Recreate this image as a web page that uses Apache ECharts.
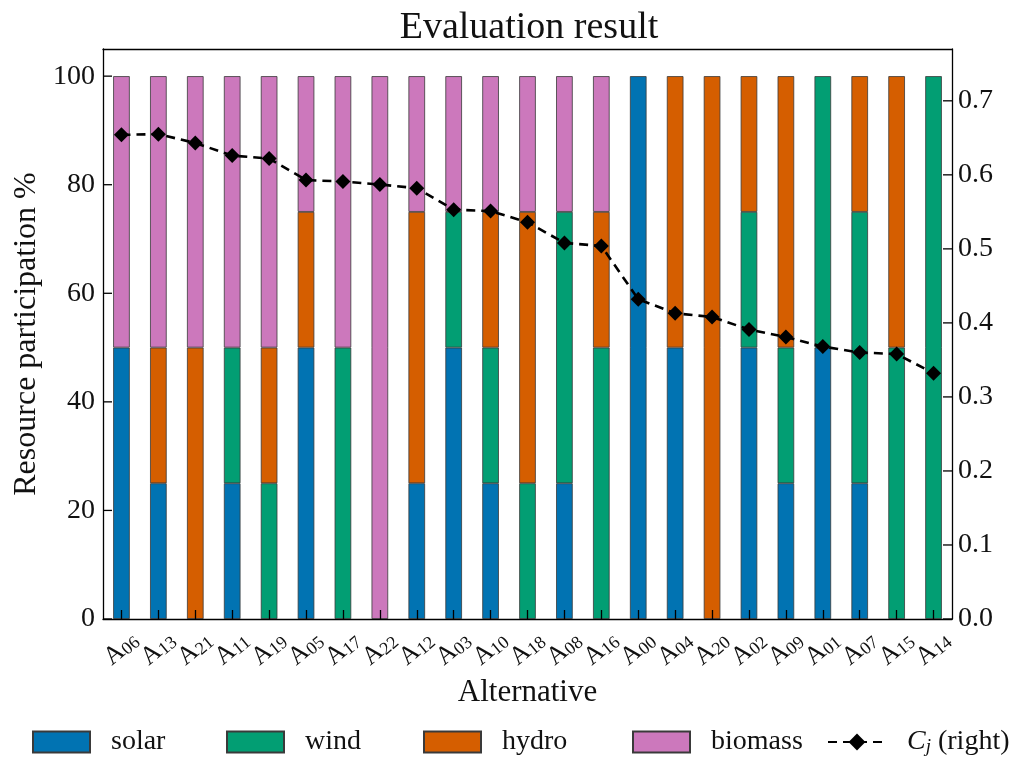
<!DOCTYPE html>
<html>
<head>
<meta charset="utf-8">
<script src="https://cdn.jsdelivr.net/npm/echarts@6/dist/echarts.min.js"></script>
<style>html,body{margin:0;padding:0;background:#fff;}#c{width:1025px;height:758px;}</style>
</head>
<body>
<div id="c"></div>
<script>
const categories = ['A06','A13','A21','A11','A19','A05','A17','A22','A12','A03','A10','A18','A08','A16','A00','A04','A20','A02','A09','A01','A07','A15','A14'];
const solar   = [50,25, 0,25, 0,50, 0,  0,25,50,25, 0,25, 0,100,50,  0,50,25,50,25, 0,  0];
const wind    = [ 0, 0, 0,25,25, 0,50,  0, 0,25,25,25,50,50,  0, 0,  0,25,25,50,50,50,100];
const hydro   = [ 0,25,50, 0,25,25, 0,  0,50, 0,25,50, 0,25,  0,50,100,25,50, 0,25,50,  0];
const biomass = [50,50,50,50,50,25,50,100,25,25,25,25,25,25,  0, 0,  0, 0, 0, 0, 0, 0,  0];
const cj = [0.654,0.655,0.643,0.626,0.622,0.593,0.591,0.587,0.582,0.553,0.551,0.536,0.508,0.504,0.432,0.413,0.408,0.391,0.381,0.368,0.360,0.358,0.332];
const leftTicks = [0,20,40,60,80,100];
const rightTicks = [0.0,0.1,0.2,0.3,0.4,0.5,0.6,0.7];

const FONT = 'Liberation Serif';
const colors = {solar:'#0173B2', wind:'#029E73', hydro:'#D55E00', biomass:'#CC78BC'};
const TICK_LEN = 9;

function barSeries(name, arr){
  return {
    name: name, type: 'bar', stack: 'total', barWidth: '45%',
    itemStyle: {color: colors[name], borderColor: '#3a3a3a', borderWidth: 0.8},
    data: arr.map(v => v === 0 ? null : v),
    z: 2
  };
}

// inward-pointing y-axis ticks, placed through the axis scale via api.coord
function tickSeries(axisIdx, ticks, side){
  return {
    name: '_ticks' + axisIdx, type: 'custom', yAxisIndex: axisIdx, silent: true, z: 20,
    data: ticks.map(v => [0, v]),
    encode: {x: 0, y: 1},
    renderItem: function(params, api){
      const cs = params.coordSys;
      const y = api.coord([0, api.value(1)])[1];
      const x0 = side === 'left' ? cs.x : cs.x + cs.width;
      const x1 = side === 'left' ? cs.x + TICK_LEN : cs.x + cs.width - TICK_LEN;
      return {type: 'line', shape: {x1: x0, y1: y, x2: x1, y2: y},
              style: {stroke: '#000', lineWidth: 1.3}};
    }
  };
}

const chart = echarts.init(document.getElementById('c'));
const legendBase = {
  orient: 'horizontal', top: 723, itemWidth: 57, itemHeight: 21, selectedMode: false,
  textStyle: {fontFamily: FONT, fontSize: 28, color: '#111', padding: [0,0,0,16],
    rich: {i: {fontFamily: FONT, fontStyle: 'italic', fontSize: 28, color:'#111'},
           s: {fontFamily: FONT, fontStyle: 'italic', fontSize: 19, verticalAlign: 'bottom', padding:[10,0,0,0], color:'#111'},
           n: {fontFamily: FONT, fontSize: 28, color:'#111'}}}
};
const axisZ = 6;
chart.setOption({
  animation: false,
  backgroundColor: '#fff',
  title: {text: 'Evaluation result', left: 524, textAlign: 'center', top: 4,
    textStyle: {fontFamily: FONT, fontSize: 38, fontWeight: 'normal', color: '#111'}},
  grid: {left: 103, right: 73, top: 49, bottom: 139, containLabel: false},
  legend: [
    Object.assign({}, legendBase, {left: 27, icon: 'rect', data: ['solar']}),
    Object.assign({}, legendBase, {left: 221, icon: 'rect', data: ['wind']}),
    Object.assign({}, legendBase, {left: 418, icon: 'rect', data: ['hydro']}),
    Object.assign({}, legendBase, {left: 627, icon: 'rect', data: ['biomass']}),
    Object.assign({}, legendBase, {left: 822, itemWidth: 58, data: ['Cj'],
      formatter: () => '{i|C}{s|j}{n| (right)}'})
  ],
  xAxis: [{
    type: 'category', data: categories, boundaryGap: true, z: axisZ, position: 'bottom',
    name: 'Alternative', nameLocation: 'middle', nameGap: 52,
    nameTextStyle: {fontFamily: FONT, fontSize: 31, color: '#111'},
    axisLine: {show: true, onZero: false, lineStyle: {color: '#000', width: 1.3}},
    axisTick: {show: true, inside: true, length: TICK_LEN, alignWithLabel: true, interval: 0, lineStyle: {color: '#000', width: 1.3}},
    axisLabel: {
      rotate: 40, align: 'center', verticalAlign: 'middle', margin: 30, interval: 0,
      formatter: v => '{a|A}{s|' + v.slice(1) + '}',
      rich: {a: {fontFamily: FONT, fontSize: 26, color: '#111'},
             s: {fontFamily: FONT, fontSize: 18, color: '#111', verticalAlign: 'bottom', padding: [8,0,0,0]}}
    },
    splitLine: {show: false}
  }, {
    type: 'category', data: categories, position: 'top', z: axisZ,
    axisLine: {show: true, onZero: false, lineStyle: {color: '#000', width: 1.3}},
    axisTick: {show: false}, axisLabel: {show: false}, splitLine: {show: false}
  }],
  yAxis: [
    {type: 'value', min: 0, max: 105, interval: 20, position: 'left', z: axisZ,
     name: 'Resource participation %', nameLocation: 'middle', nameGap: 52,
     nameTextStyle: {fontFamily: FONT, fontSize: 32, color: '#111'},
     axisLine: {show: true, onZero: false, lineStyle: {color: '#000', width: 1.3}},
     axisTick: {show: false},
     axisLabel: {showMaxLabel: false, fontFamily: FONT, fontSize: 28, color: '#111', margin: 8,
       formatter: v => leftTicks.indexOf(v) >= 0 ? String(v) : ''},
     splitLine: {show: false}},
    {type: 'value', min: 0, max: 0.77, interval: 0.1, position: 'right', z: axisZ,
     axisLine: {show: true, onZero: false, lineStyle: {color: '#000', width: 1.3}},
     axisTick: {show: false},
     axisLabel: {showMaxLabel: false, fontFamily: FONT, fontSize: 28, color: '#111', margin: 6,
       formatter: v => {const r = Math.round(v*10)/10; return (Math.abs(r - v) < 1e-6 && rightTicks.indexOf(r) >= 0) ? r.toFixed(1) : '';}},
     splitLine: {show: false}}
  ],
  series: [
    barSeries('solar', solar),
    barSeries('wind', wind),
    barSeries('hydro', hydro),
    barSeries('biomass', biomass),
    {name: 'Cj', type: 'line', yAxisIndex: 1, data: cj, symbol: 'diamond', symbolSize: 15,
     itemStyle: {color: '#000'}, lineStyle: {color: '#000', width: 2.6, type: [9, 6]}, z: 10},
    tickSeries(0, leftTicks, 'left'),
    tickSeries(1, rightTicks, 'right')
  ]
});
</script>
</body>
</html>
